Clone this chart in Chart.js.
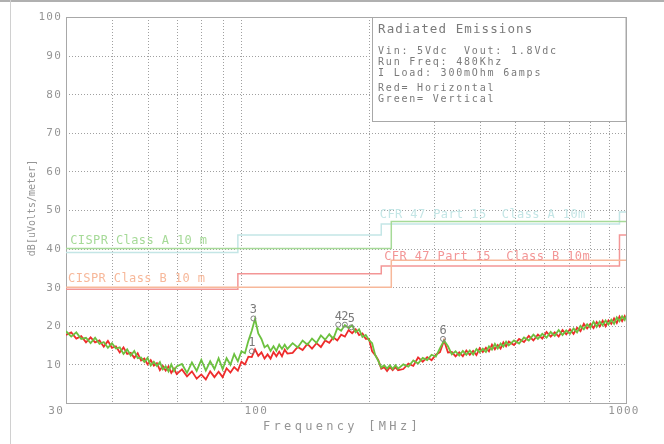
<!DOCTYPE html>
<html>
<head>
<meta charset="utf-8">
<script src="https://cdn.jsdelivr.net/npm/chart.js@4"></script>
<style>
  html, body { margin: 0; padding: 0; background: #fff; }
  #wrap { width: 664px; height: 444px; }
</style>
</head>
<body>
<div id="wrap"><canvas id="chart" width="664" height="444"></canvas></div>
<script>
// --- DATA ---
const freqMHz = [
  30, 31, 32, 33, 34, 35, 36, 37, 38, 39, 40, 41, 42, 43, 44, 45, 46, 47, 48, 49, 50, 51, 52, 53, 54, 55, 56, 57, 58, 59, 60,
  62, 64, 66, 68, 70, 72, 74, 76, 78, 80, 82, 84, 86, 88, 90, 92, 94, 96, 98, 100, 102, 104, 106, 108, 110, 112, 114, 116, 118, 120,
  124, 128, 132, 136, 140, 144, 148, 152, 156, 160, 164, 168, 172, 176, 180, 184, 188, 192, 196, 200, 204, 208, 212, 216, 220, 224, 228, 232, 236, 240,
  248, 256, 264, 272, 280, 288, 296, 304, 312, 320, 328, 336, 344, 352, 360, 368, 376, 384, 392, 400, 408, 416, 424, 432, 440, 448, 456, 464, 472, 480,
  496, 512, 528, 544, 560, 576, 592, 608, 624, 640, 656, 672, 688, 704, 720, 736, 752, 768, 784, 800, 816, 832, 848, 864, 880, 896, 912, 928, 944, 960, 976, 992, 1000
];

// Red = Horizontal
const horizontalDb = [
  17.6, 18.3, 16.7, 17.3, 15.7, 17.0, 15.7, 16.2, 14.6, 16.1, 14.3, 14.7, 13.1, 14.4, 12.7, 13.0, 11.7, 12.9, 11.0, 11.5, 10.0, 11.1, 9.7, 10.3, 8.5, 9.6, 8.4, 9.5, 7.8, 8.9, 7.5,
  8.7, 6.9, 8.2, 6.3, 7.4, 6.1, 8.2, 6.7, 8.1, 6.7, 9.0, 7.9, 9.3, 8.4, 10.7, 10.0, 12.0, 11.9, 13.9, 12.2, 13.1, 11.5, 12.6, 11.5, 13.2, 12.1, 13.3, 12.1, 13.8, 12.8,
  13.0, 14.5, 13.7, 15.3, 14.1, 15.5, 14.5, 16.2, 15.6, 17.0, 16.2, 17.7, 17.2, 18.9, 18.1, 19.1, 17.6, 18.0, 16.6, 16.6, 13.4, 12.4, 11.1, 8.9, 9.3, 8.3, 9.3, 8.5, 9.3, 8.5,
  8.8, 10.2, 9.6, 11.8, 10.7, 11.9, 11.1, 12.5, 13.2, 16.2, 13.1, 13.2, 12.1, 13.1, 12.1, 13.6, 12.5, 13.5, 12.4, 14.2, 13.2, 14.3, 13.4, 15.1, 13.9, 15.0, 14.1, 15.7, 14.7, 15.9,
  15.0, 16.6, 15.8, 17.4, 16.2, 17.7, 16.7, 18.4, 17.2, 18.3, 17.2, 18.9, 17.8, 19.1, 17.9, 19.5, 18.6, 20.5, 19.3, 20.5, 19.4, 21.0, 19.8, 21.3, 19.9, 21.4, 20.5, 21.9, 20.7, 22.4, 21.2, 22.5, 21.8
];

// Green = Vertical
const verticalDb = [
  18.6, 17.2, 18.3, 16.6, 16.9, 15.5, 16.9, 15.3, 15.8, 14.3, 15.5, 14.1, 14.4, 12.7, 13.9, 12.3, 13.5, 11.6, 11.8, 10.6, 11.7, 9.7, 10.7, 9.6, 10.6, 8.7, 9.5, 8.2, 10.0, 8.3, 9.5,
  10.1, 7.8, 10.5, 8.3, 11.2, 8.4, 10.8, 8.8, 11.6, 8.8, 11.6, 9.9, 12.7, 10.8, 13.4, 12.9, 16.1, 18.7, 21.8, 18.0, 16.6, 14.4, 15.0, 13.5, 14.7, 13.5, 15.1, 14.0, 15.1, 14.0,
  15.5, 14.4, 16.2, 15.1, 16.7, 15.6, 17.5, 16.4, 17.8, 16.6, 19.4, 18.7, 20.2, 19.4, 20.1, 18.3, 19.1, 17.1, 17.6, 16.3, 15.5, 12.4, 10.9, 9.2, 9.8, 8.9, 9.8, 8.8, 9.8, 8.9,
  10.0, 9.4, 11.0, 10.2, 11.7, 11.1, 12.5, 12.0, 14.2, 16.2, 14.7, 12.6, 13.4, 12.3, 13.5, 12.5, 13.6, 12.5, 14.0, 13.1, 14.1, 13.2, 14.7, 13.8, 15.3, 14.1, 15.4, 14.6, 15.9, 14.9,
  16.2, 15.4, 17.0, 16.2, 17.7, 16.6, 17.9, 16.9, 18.4, 17.4, 18.9, 17.6, 18.8, 17.9, 19.3, 18.3, 20.0, 19.1, 20.4, 19.5, 21.1, 19.7, 21.1, 20.1, 21.4, 20.3, 21.6, 20.5, 22.2, 21.2, 22.5, 21.5, 22.5
];

// limit lines
const cisprMHz = [30, 230, 230, 1000];
const cisprADb = [40, 40, 47, 47];
const cisprBDb = [30, 30, 37, 37];
const fccMHz = [30, 88, 88, 216, 216, 960, 960, 1000];
const fccADb = [39, 39, 43.5, 43.5, 46.4, 46.4, 49.5, 49.5];
const fccBDb = [29.5, 29.5, 33.5, 33.5, 35.5, 35.5, 43.5, 43.5];

const limitNames = ['CISPR Class A 10 m', 'CISPR Class B 10 m', 'CFR 47 Part 15  Class A 10m', 'CFR 47 Part 15  Class B 10m'];
const limitNameMHz = [30.8, 30.4, 214, 220];
const limitNameDb = [41.1, 31.4, 47.9, 37.0];
const limitColors = ['#a6da98', '#f7b89a', '#c4e6e6', '#f39696'];

// peak markers
const markerMHz = [96, 97, 165, 172, 179, 318];
const markerDb = [13.4, 21.9, 20.3, 20.3, 19.6, 16.6];
const markerNames = ['1', '3', '4', '2', '5', '6'];

// axes
const yTickDb = [10, 20, 30, 40, 50, 60, 70, 80, 90, 100];
const xTickMHz = [30, 100, 1000];
const xGridMHz = [40, 50, 60, 70, 80, 90, 200, 300, 400, 500, 600, 700, 800, 900];
const yGridDb = [10, 20, 30, 40, 50, 60, 70, 80, 90];

const noteLines = ['Vin: 5Vdc  Vout: 1.8Vdc', 'Run Freq: 480Khz', 'I Load: 300mOhm 6amps', 'Red= Horizontal', 'Green= Vertical'];

const pairs = (xs, ys) => xs.map((x, i) => ({ x, y: ys[i] }));

const MONO = '"DejaVu Sans Mono", monospace';
const GREY = '#959595';

function text(ctx, s, x, y, size, color, spacing, align) {
  ctx.font = size + 'px ' + MONO;
  ctx.fillStyle = color;
  ctx.letterSpacing = spacing + 'px';
  ctx.textAlign = align || 'left';
  ctx.fillText(s, x, y);
}

// --- PLUGIN: grid, frame, texts ---
const decor = {
  id: 'decor',
  beforeDatasetsDraw(chart) {
    const { ctx, chartArea: a, scales: { x, y } } = chart;
    ctx.save();
    // page edges
    ctx.fillStyle = '#b0b0b0';
    ctx.fillRect(0, 0, 664, 2);
    ctx.fillStyle = '#d0d0d0';
    ctx.fillRect(10, 0, 1, 444);

    ctx.strokeStyle = '#a0a0a0';
    ctx.lineWidth = 1;
    ctx.setLineDash([1, 2]);
    ctx.beginPath();
    xGridMHz.forEach(f => {
      const px = Math.round(x.getPixelForValue(f)) + 0.5;
      ctx.moveTo(px, a.top); ctx.lineTo(px, a.bottom);
    });
    yGridDb.forEach(v => {
      const py = Math.round(y.getPixelForValue(v)) + 0.5;
      ctx.moveTo(a.left, py); ctx.lineTo(a.right, py);
    });
    ctx.stroke();
    ctx.setLineDash([]);
    ctx.strokeStyle = '#a8a8a8';
    ctx.strokeRect(a.left + 0.5, a.top + 0.5, a.right - a.left, a.bottom - a.top);
    ctx.restore();
  },
  afterDatasetsDraw(chart) {
    const { ctx, chartArea: a, scales: { x, y } } = chart;
    ctx.save();
    ctx.textBaseline = 'alphabetic';

    // limit names
    limitNames.forEach((s, i) => {
      text(ctx, s, x.getPixelForValue(limitNameMHz[i]), y.getPixelForValue(limitNameDb[i]), 12, limitColors[i], 0.4);
    });

    // marker numbers
    markerNames.forEach((s, i) => {
      text(ctx, s, x.getPixelForValue(markerMHz[i]), y.getPixelForValue(markerDb[i]) - 5, 12, '#7a7a7a', 0, 'center');
    });

    // note box
    ctx.fillStyle = '#fff';
    ctx.fillRect(372, 17, a.right - 372, 105);
    ctx.strokeStyle = '#a8a8a8';
    ctx.strokeRect(372.5, 17.5, a.right - 372.5, 104);
    text(ctx, 'Radiated Emissions', 378, 33, 12.5, '#7a7a7a', 1.1);
    const noteY = [54, 65, 76, 91, 102];
    noteLines.forEach((s, i) => text(ctx, s, 378, noteY[i], 10, '#7a7a7a', 1.8));

    // tick labels
    ctx.textBaseline = 'middle';
    yTickDb.forEach(v => {
      text(ctx, String(v), 62, y.getPixelForValue(v) + 0.5, 11, GREY, 1.2, 'right');
    });
    xTickMHz.forEach((f, i) => {
      const px = x.getPixelForValue(f);
      if (i === 0) text(ctx, String(f), px - 2, 411, 11, GREY, 1.2, 'right');
      else text(ctx, String(f), px - 2, 411, 11, GREY, 1.2, 'center');
    });

    // axis titles
    text(ctx, 'Frequency [MHz]', 342, 427, 12, GREY, 3.3, 'center');
    ctx.translate(32, 208);
    ctx.rotate(-Math.PI / 2);
    text(ctx, 'dB[uVolts/meter]', 0, 0, 10, GREY, 0, 'center');
    ctx.restore();
  }
};

// --- CHART ---
const ctx = document.getElementById('chart').getContext('2d');
const trace = { pointRadius: 0, borderWidth: 1.8, tension: 0, fill: false };
const limit = { pointRadius: 0, borderWidth: 1.5, tension: 0, fill: false };

new Chart(ctx, {
  type: 'line',
  data: {
    datasets: [
      { type: 'scatter', data: pairs(markerMHz, markerDb), pointRadius: 2.5, pointBorderWidth: 1,
        pointBorderColor: '#808080', pointBackgroundColor: 'rgba(0,0,0,0)', order: 0 },
      { data: pairs(freqMHz, verticalDb), borderColor: '#6cc13f', ...trace, order: 1 },
      { data: pairs(freqMHz, horizontalDb), borderColor: '#ee2c2c', ...trace, order: 2 },
      { data: pairs(cisprMHz, cisprADb), borderColor: limitColors[0], ...limit, order: 3 },
      { data: pairs(cisprMHz, cisprBDb), borderColor: limitColors[1], ...limit, order: 3 },
      { data: pairs(fccMHz, fccADb), borderColor: limitColors[2], ...limit, order: 3 },
      { data: pairs(fccMHz, fccBDb), borderColor: limitColors[3], ...limit, order: 3 }
    ]
  },
  options: {
    responsive: false,
    animation: false,
    devicePixelRatio: 1,
    layout: { padding: { top: 17, right: 38, left: 0, bottom: 0 } },
    plugins: { legend: { display: false }, tooltip: { enabled: false } },
    scales: {
      x: {
        type: 'logarithmic', min: 30, max: 1000,
        ticks: { display: false }, grid: { display: false }, border: { display: false },
        afterFit: s => { s.height = 41; }
      },
      y: {
        min: 0, max: 100,
        ticks: { display: false }, grid: { display: false }, border: { display: false },
        afterFit: s => { s.width = 66; }
      }
    }
  },
  plugins: [decor]
});
</script>
</body>
</html>
